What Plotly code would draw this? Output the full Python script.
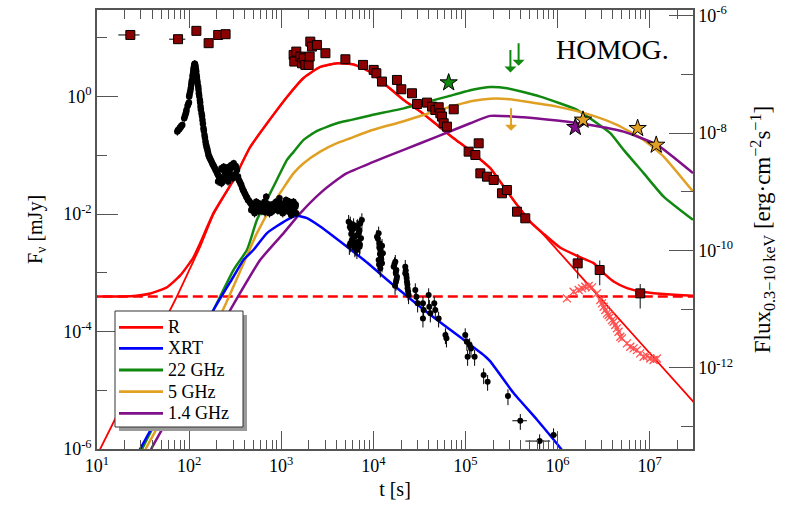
import numpy as np
import plotly.graph_objects as go

# ------------------------------------------------------------------
# DATA; times in s, optical/radio in mJy,
# X-ray in erg cm^-2 s^-1.  Dense sets are stored as log10 values.
# ------------------------------------------------------------------
# Optical R-band, early (with time bins)
R_early_logt = [1.362, 1.880, 2.079, 2.212, 2.316, 2.396]
R_early_logF = [1.050, 0.978, 1.120, 0.910, 1.050, 1.063]
R_early_xerr_frac = [0.26, 0.20, 0.06, 0.06, 0.06, 0.06]

# Optical R-band, main light curve
R_logt = [3.135, 3.142, 3.164, 3.208, 3.226, 3.244, 3.262, 3.298, 3.309, 3.316,
          3.334, 3.388, 3.480, 3.697, 3.888, 4.004, 4.033, 4.094, 4.257, 4.304,
          4.420, 4.475, 4.583, 4.638, 4.674, 4.710, 4.728, 4.746, 4.764, 4.800,
          4.873, 5.035, 5.144, 5.108, 5.162, 5.234, 5.307, 5.397, 5.451, 5.560,
          5.650]
R_logF = [0.710, 0.597, 0.767, 0.682, 0.568, 0.653, 0.540, 0.540, 0.682, 0.937,
          0.852, 0.880, 0.739, 0.636, 0.540, 0.455, 0.398, 0.256, 0.284, 0.125,
          0.057, -0.125, -0.102, -0.170, -0.227, -0.181, -0.284, -0.340, -0.454, -0.511,
          -0.216, -0.937, -0.795, -0.994, -1.306, -1.363, -1.419, -1.646, -1.590, -1.959,
          -2.072]

# Optical R-band, late (host dominated)
R_late_logt = [6.219, 6.458, 6.898]
R_late_logF = [-2.839, -2.953, -3.350]

# Optical R-band, host subtracted (crosses)
Rsub_logt = [6.102, 6.175, 6.230, 6.266, 6.302, 6.338, 6.374, 6.428, 6.465, 6.483,
             6.501, 6.519, 6.537, 6.555, 6.573, 6.591, 6.609, 6.627, 6.645, 6.663,
             6.682, 6.700, 6.754, 6.790, 6.826, 6.862, 6.898, 6.935, 6.971, 7.007,
             7.043, 7.079]
Rsub_logF = [-3.435, -3.322, -3.293, -3.265, -3.237, -3.225, -3.248, -3.350, -3.464, -3.521,
             -3.577, -3.634, -3.691, -3.719, -3.748, -3.805, -3.833, -3.890, -3.946, -4.003,
             -4.088, -4.117, -4.202, -4.259, -4.287, -4.316, -4.372, -4.429, -4.418, -4.458,
             -4.486, -4.458]

# Host galaxy level (mJy)
host_level = 3.95e-4

# Swift/XRT flux, early flare + plateau
XRT_early_logt = [1.872, 1.893, 1.908, 1.926, 1.947, 1.962, 1.972, 1.983, 1.998, 2.001,
                  2.012, 2.023, 2.030, 2.037, 2.045, 2.052, 2.059, 2.066, 2.073, 2.081,
                  2.088, 2.099, 2.106, 2.117, 2.124, 2.135, 2.145, 2.156, 2.167, 2.178,
                  2.189, 2.199, 2.210, 2.225, 2.243, 2.261, 2.279, 2.297, 2.315, 2.333,
                  2.315, 2.351, 2.351, 2.376, 2.405, 2.434, 2.459, 2.484, 2.506, 2.520,
                  2.390, 2.441, 2.477, 2.423, 2.369, 2.531, 2.549, 2.567, 2.585, 2.603,
                  2.621, 2.639, 2.657, 2.675, 2.693, 2.722, 2.747, 2.772, 2.801, 2.830,
                  2.855, 2.881, 2.909, 2.938, 2.963, 2.989, 3.017, 3.046, 3.071, 3.097,
                  3.126, 3.147, 3.162, 2.675, 2.729, 2.819, 2.873, 2.945, 3.017, 3.090,
                  3.108, 2.711, 2.837, 2.981, 3.053, 3.133, 3.154,
                  1.880, 1.900, 1.915, 1.955, 1.968, 1.990, 2.005, 2.018, 2.027, 2.041,
                  2.048, 2.055, 2.062, 2.070, 2.077, 2.084, 2.092, 2.102, 2.110, 2.120,
                  2.128, 2.140, 2.150, 2.160, 2.172, 2.183, 2.194, 2.205, 2.218, 2.235,
                  2.252, 2.270, 2.288, 2.306, 2.324, 2.342, 2.360, 2.385, 2.395, 2.415,
                  2.445, 2.470, 2.490, 2.512, 2.500, 2.460, 2.410, 2.380, 2.358, 2.430,
                  2.540, 2.558, 2.576, 2.594, 2.612, 2.630, 2.648, 2.666, 2.684, 2.700,
                  2.715, 2.735, 2.755, 2.765, 2.790, 2.810, 2.825, 2.845, 2.862, 2.890,
                  2.900, 2.925, 2.950, 2.970, 2.995, 3.005, 3.030, 3.060, 3.080, 3.110,
                  3.120, 3.140, 3.158]
XRT_early_logF = [-7.975, -7.936, -7.901, -7.862, -7.748, -7.674, -7.606, -7.538, -7.481, -7.379,
                  -7.294, -7.180, -7.106, -7.038, -6.953, -6.879, -6.823, -6.840, -6.913, -7.010,
                  -7.106, -7.209, -7.322, -7.436, -7.549, -7.663, -7.777, -7.918, -8.032, -8.146,
                  -8.231, -8.288, -8.373, -8.430, -8.486, -8.543, -8.600, -8.657, -8.713, -8.770,
                  -8.827, -8.855, -8.600, -8.572, -8.628, -8.572, -8.543, -8.515, -8.560, -8.628,
                  -8.696, -8.742, -8.770, -8.827, -8.770, -8.742, -8.827, -8.884, -8.969, -9.026,
                  -9.083, -9.139, -9.168, -9.208, -9.253, -9.281, -9.310, -9.264, -9.298, -9.242,
                  -9.310, -9.264, -9.287, -9.253, -9.321, -9.242, -9.281, -9.225, -9.298, -9.253,
                  -9.310, -9.208, -9.367, -9.310, -9.168, -9.168, -9.367, -9.168, -9.367, -9.168,
                  -9.395, -9.367, -9.083, -9.111, -9.139, -9.168, -9.253,
                  -7.950, -7.910, -7.880, -7.710, -7.640, -7.510, -7.340, -7.240, -7.140, -7.000,
                  -6.910, -6.850, -6.820, -6.870, -6.950, -7.050, -7.150, -7.260, -7.370, -7.480,
                  -7.600, -7.710, -7.840, -7.960, -8.080, -8.190, -8.260, -8.330, -8.400, -8.460,
                  -8.520, -8.570, -8.630, -8.690, -8.740, -8.800, -8.620, -8.600, -8.650, -8.590,
                  -8.620, -8.580, -8.560, -8.600, -8.700, -8.720, -8.760, -8.800, -8.840, -8.700,
                  -8.800, -8.860, -8.930, -8.990, -9.050, -9.100, -9.150, -9.190, -9.240, -9.280,
                  -9.220, -9.240, -9.330, -9.200, -9.330, -9.220, -9.350, -9.200, -9.300, -9.220,
                  -9.340, -9.200, -9.300, -9.240, -9.330, -9.200, -9.300, -9.250, -9.340, -9.220,
                  -9.280, -9.320, -9.220]

# Swift/XRT flux, late decay
XRT_late_logt = [3.750, 3.768, 3.786, 3.804, 3.822, 3.840, 3.858, 3.768, 3.804, 3.840,
                 3.732, 3.786, 3.866, 3.851, 3.750, 3.876, 3.822,
                 3.745, 3.760, 3.775, 3.790, 3.815, 3.830, 3.850, 3.855, 3.740, 3.800,
                 4.040, 4.058, 4.068, 4.076, 4.083, 4.094, 4.076, 4.104, 4.058,
                 4.050, 4.065, 4.072, 4.086, 4.095, 4.062,
                 4.221, 4.239, 4.250, 4.257, 4.246, 4.230, 4.244, 4.252, 4.236,
                 4.347, 4.358, 4.365, 4.372, 4.383, 4.347, 4.352, 4.362, 4.370, 4.378,
                 4.456, 4.467, 4.481, 4.539, 4.546, 4.539, 4.601, 4.608, 4.619,
                 4.662, 4.673, 4.709, 4.783, 4.794, 4.998, 5.016, 5.046, 5.061, 5.024,
                 5.100, 5.198, 5.241, 5.462]
XRT_late_logF = [-9.537, -9.651, -9.764, -9.878, -9.594, -9.707, -9.537, -9.821, -9.935, -9.849,
                 -9.509, -9.566, -9.793, -9.935, -9.878, -9.480, -9.991,
                 -9.600, -9.720, -9.830, -9.620, -9.750, -9.580, -9.660, -9.900, -9.920, -9.960,
                 -9.764, -9.707, -9.878, -9.991, -10.105, -10.219, -10.304, -10.048, -10.162,
                 -9.800, -9.950, -10.060, -10.150, -9.920, -10.240,
                 -10.275, -10.190, -10.332, -10.446, -10.531, -10.230, -10.380, -10.490, -10.600,
                 -10.275, -10.417, -10.531, -10.644, -10.758, -10.389, -10.340, -10.470, -10.580, -10.700,
                 -10.673, -10.786, -10.900, -10.900, -11.014, -11.156, -10.758, -10.957, -11.070,
                 -10.900, -11.014, -11.156, -11.439, -11.496, -11.439, -11.553, -11.610, -11.667, -11.809,
                 -11.809, -12.121, -12.234, -12.479]
# last XRT points (wide time bins)
XRT_tail_logt = [5.596, 5.806, 5.957]
XRT_tail_logF = [-12.899, -13.245, -13.143]
XRT_tail_xerr_frac = [0.18, 0.30, 0.10]

# Radio detections (mJy)
radio22_t = [6.58e4]
radio22_F = [1.73]
radio5_t = [1.89e6, 7.41e6, 1.18e7]
radio5_F = [0.401, 0.289, 0.150]
radio14_t = [1.56e6]
radio14_F = [0.301]

# Radio upper limits (mJy)
ul22_t = [3.08e5, 3.78e5]
ul22_F = [6.24, 8.11]
ul5_t = [3.13e5]
ul5_F = [0.635]

# ------------------ model curves (HOMOG.) ------------------
mR_tot_logt = [1.000, 1.362, 1.579, 1.760, 1.904, 2.046, 2.122, 2.266, 2.483, 2.664,
               2.882, 3.063, 3.243, 3.424, 3.606, 3.786, 3.967, 4.149, 4.329,
               4.510, 4.692, 4.872, 5.017, 5.126, 5.270, 5.415, 5.560, 5.705, 5.849,
               6.031, 6.229, 6.392, 6.501, 6.609, 6.755, 6.899, 7.117, 7.471, 7.551]
mR_tot_logF = [-3.403, -3.399, -3.352, -3.245, -3.045, -2.740, -2.490, -1.980, -1.417, -0.856,
               -0.379, -0.005, 0.318, 0.505, 0.568, 0.548, 0.420, 0.182, -0.056,
               -0.255, -0.482, -0.708, -0.878, -1.021, -1.218, -1.531, -1.843, -2.132, -2.336,
               -2.574, -2.722, -2.835, -3.005, -3.148, -3.260, -3.318, -3.357, -3.391, -3.395]

mR_ag_logt = [0.982, 1.036, 1.579, 1.850, 2.013, 2.122, 2.266, 2.483, 2.664, 2.882,
              3.063, 3.243, 3.424, 3.606, 3.786, 3.967, 4.149, 4.329, 4.510, 4.692,
              4.872, 5.017, 5.126, 5.270, 5.415, 5.560, 5.705, 5.849, 5.995, 6.465,
              7.471, 7.551]
mR_ag_logF = [-6.165, -5.995, -4.293, -3.459, -2.915, -2.550, -2.000, -1.417, -0.856, -0.379,
              -0.005, 0.318, 0.505, 0.568, 0.548, 0.420, 0.182, -0.056, -0.255, -0.482,
              -0.708, -0.878, -1.021, -1.218, -1.531, -1.843, -2.132, -2.353, -2.608, -3.430,
              -5.190, -5.331]

mXRT_logt = [1.362, 1.470, 1.760, 1.977, 2.266, 2.483, 2.592, 2.700, 2.846, 3.063,
             3.172, 3.280, 3.424, 3.569, 3.895, 4.257, 4.618, 4.980, 5.216, 5.270,
             5.523, 5.777, 6.031, 6.085]
mXRT_logF = [-13.681, -13.375, -12.541, -11.860, -11.009, -10.443, -10.159, -9.988, -9.704, -9.478,
             -9.410, -9.449, -9.592, -9.762, -10.159, -10.640, -11.094, -11.520, -11.804, -11.889,
             -12.427, -12.881, -13.363, -13.477]

m22_logt = [1.416, 1.492, 1.850, 2.266, 2.483, 2.629, 2.737, 2.917, 3.063, 3.135,
            3.243, 3.389, 3.606, 3.750, 3.967, 4.329, 4.510, 4.800, 5.089, 5.270,
            5.452, 5.813, 6.212, 6.429, 6.573, 6.718, 6.935, 7.152, 7.471]
m22_logF = [-6.318, -5.995, -4.905, -3.629, -2.949, -2.608, -2.098, -1.531, -1.077, -0.941,
            -0.737, -0.584, -0.453, -0.400, -0.320, -0.200, -0.120, 0.000, 0.120, 0.165,
            0.143, 0.000, -0.226, -0.453, -0.623, -0.907, -1.303, -1.702, -2.098]

m5_logt = [1.438, 1.530, 1.904, 2.368, 2.737, 2.917, 3.135, 3.243, 3.424, 3.606,
           3.750, 3.967, 4.329, 4.692, 4.909, 5.090, 5.270, 5.450, 5.632, 5.995, 6.357,
           6.646, 6.935, 7.152, 7.471]
m5_logF = [-6.318, -5.995, -4.939, -3.629, -2.324, -1.814, -1.303, -1.133, -0.936, -0.793,
           -0.708, -0.580, -0.420, -0.240, -0.140, -0.070, -0.035, -0.040, -0.080, -0.170,
           -0.311, -0.482, -0.737, -1.021, -1.616]

m14_logt = [1.503, 1.590, 2.013, 2.448, 2.773, 3.026, 3.208, 3.424, 3.606, 3.714,
            3.967, 4.329, 4.692, 5.053, 5.270, 5.632, 5.995, 6.357, 6.718, 7.080,
            7.471]
m14_logF = [-6.318, -5.995, -4.822, -3.629, -2.779, -2.324, -1.984, -1.644, -1.417, -1.303,
            -1.133, -0.907, -0.681, -0.453, -0.328, -0.351, -0.408, -0.482, -0.596, -0.822,
            -1.303]

# legend labels
legend_labels = ["R", "XRT", "22 GHz", "5 GHz", "1.4 GHz"]

# axis tick labels
x_tickvals = [1e1, 1e2, 1e3, 1e4, 1e5, 1e6, 1e7]
x_ticktext = ["10<sup>1</sup>", "10<sup>2</sup>", "10<sup>3</sup>", "10<sup>4</sup>",
              "10<sup>5</sup>", "10<sup>6</sup>", "10<sup>7</sup>"]
y_tickvals = [1e-6, 1e-4, 1e-2, 1e0]
y_ticktext = ["10<sup>-6</sup>", "10<sup>-4</sup>", "10<sup>-2</sup>", "10<sup>0</sup>"]
y2_tickvals = [1e-12, 1e-10, 1e-8, 1e-6]
y2_ticktext = ["10<sup>-12</sup>", "10<sup>-10</sup>", "10<sup>-8</sup>", "10<sup>-6</sup>"]

# ------------------------------------------------------------------
def p10(a):
    return 10.0 ** np.asarray(a, dtype=float)

RED = "#ff0000"
BLUE = "#0000ff"
GREEN = "#11880f"
ORANGE = "#e0a024"
PURPLE = "#80108a"
MAROON = "#8b0000"
FONT = "Liberation Serif"
AXC = "#555555"
COLORS = [RED, BLUE, GREEN, ORANGE, PURPLE]

fig = go.Figure()
SPL = dict(shape="spline", smoothing=0.5)

# host level dashed line
fig.add_trace(go.Scatter(x=[10 ** 0.9, 10 ** 7.6], y=[host_level, host_level], mode="lines",
                         line=dict(color=RED, width=2.5, dash="10px,5px"),
                         showlegend=False, hoverinfo="skip"))
# model curves
fig.add_trace(go.Scatter(x=p10(mR_ag_logt), y=p10(mR_ag_logF), mode="lines",
                         line=dict(color=RED, width=1.8, **SPL), showlegend=False))
fig.add_trace(go.Scatter(x=p10(mR_tot_logt), y=p10(mR_tot_logF), mode="lines", name=legend_labels[0],
                         line=dict(color=RED, width=2.5, **SPL), showlegend=False))
fig.add_trace(go.Scatter(x=p10(mXRT_logt), y=p10(mXRT_logF), mode="lines", name=legend_labels[1],
                         yaxis="y2", line=dict(color=BLUE, width=2.5, **SPL), showlegend=False))
fig.add_trace(go.Scatter(x=p10(m22_logt), y=p10(m22_logF), mode="lines", name=legend_labels[2],
                         line=dict(color=GREEN, width=2.5, **SPL), showlegend=False))
fig.add_trace(go.Scatter(x=p10(m5_logt), y=p10(m5_logF), mode="lines", name=legend_labels[3],
                         line=dict(color=ORANGE, width=2.5, **SPL), showlegend=False))
fig.add_trace(go.Scatter(x=p10(m14_logt), y=p10(m14_logF), mode="lines", name=legend_labels[4],
                         line=dict(color=PURPLE, width=2.5, **SPL), showlegend=False))

# XRT data
fig.add_trace(go.Scatter(x=p10(XRT_early_logt), y=p10(XRT_early_logF), mode="markers", yaxis="y2",
                         marker=dict(color="black", size=6.5),
                         error_y=dict(type="percent", value=15, color="black", thickness=1, width=0),
                         showlegend=False))
fig.add_trace(go.Scatter(x=p10(XRT_late_logt), y=p10(XRT_late_logF), mode="markers", yaxis="y2",
                         marker=dict(color="black", size=6),
                         error_y=dict(type="percent", value=30, color="black", thickness=1, width=0),
                         showlegend=False))
xt = p10(XRT_tail_logt)
fig.add_trace(go.Scatter(x=xt, y=p10(XRT_tail_logF), mode="markers", yaxis="y2",
                         marker=dict(color="black", size=6),
                         error_y=dict(type="percent", value=30, color="black", thickness=1, width=0),
                         error_x=dict(type="data", array=xt * np.array(XRT_tail_xerr_frac),
                                      color="black", thickness=1, width=0),
                         showlegend=False))

# optical data
xe = p10(R_early_logt)
fig.add_trace(go.Scatter(x=xe, y=p10(R_early_logF), mode="markers",
                         marker=dict(color=MAROON, size=9, symbol="square",
                                     line=dict(color="black", width=1)),
                         error_x=dict(type="data", array=xe * np.array(R_early_xerr_frac),
                                      color="black", thickness=1, width=0),
                         error_y=dict(type="percent", value=12, color="black", thickness=1, width=0),
                         showlegend=False))
fig.add_trace(go.Scatter(x=p10(R_logt), y=p10(R_logF), mode="markers",
                         marker=dict(color=MAROON, size=9, symbol="square",
                                     line=dict(color="black", width=1)),
                         error_y=dict(type="percent", value=10, color="black", thickness=1, width=0),
                         showlegend=False))
fig.add_trace(go.Scatter(x=p10(R_late_logt), y=p10(R_late_logF), mode="markers",
                         marker=dict(color=MAROON, size=9, symbol="square",
                                     line=dict(color="black", width=1)),
                         error_y=dict(type="percent", value=45, color="#333333", thickness=1.2, width=0),
                         showlegend=False))
fig.add_trace(go.Scatter(x=p10(Rsub_logt), y=p10(Rsub_logF), mode="markers",
                         marker=dict(color="#ff5050", size=8, symbol="x-thin",
                                     line=dict(color="#ff5050", width=1.3)),
                         error_y=dict(type="percent", value=10, color="#ff5050", thickness=1, width=0),
                         showlegend=False))

# radio detections
for tt, ff, col in [(radio22_t, radio22_F, GREEN), (radio14_t, radio14_F, PURPLE),
                    (radio5_t, radio5_F, ORANGE)]:
    fig.add_trace(go.Scatter(x=tt, y=ff, mode="markers",
                             marker=dict(color=col, size=13, symbol="star",
                                         line=dict(color="black", width=1)),
                             showlegend=False))

W, H = 786, 509
ML, MR, MT, MB = 97, 93, 10, 60
pw, ph = W - ML - MR, H - MT - MB


def px2x(px):
    return (px - ML) / pw


def py2y(py):
    return 1 - (py - MT) / ph


# radio upper limits (arrows)
annotations = []
for tt, ff, col in [(ul22_t, ul22_F, GREEN), (ul5_t, ul5_F, ORANGE)]:
    for t_, f_ in zip(tt, ff):
        annotations.append(dict(x=np.log10(t_), y=np.log10(f_), xref="x", yref="y",
                                ax=0, ay=24, axref="pixel", ayref="pixel", text="",
                                showarrow=True, arrowside="start", arrowhead=2,
                                arrowsize=1.1, arrowwidth=2, arrowcolor=col))
annotations.append(dict(x=px2x(612), y=py2y(49), xref="paper", yref="paper", text="HOMOG.",
                        showarrow=False, font=dict(family=FONT, size=28, color="black"),
                        xanchor="center", yanchor="middle"))

# legend box (drawn by hand to match the original layout)
lx0, ly0, lx1, ly1 = 115, 311, 243, 427
shapes = [dict(type="rect", xref="paper", yref="paper", layer="above",
               x0=px2x(lx0 + 4), x1=px2x(lx1 + 4), y0=py2y(ly1 + 4), y1=py2y(ly0 + 4),
               fillcolor="#9a9a9a", line=dict(width=0)),
          dict(type="rect", xref="paper", yref="paper", layer="above",
               x0=px2x(lx0), x1=px2x(lx1), y0=py2y(ly1), y1=py2y(ly0),
               fillcolor="white", line=dict(color="#333333", width=1))]
row_y = [327.3, 348.3, 370.0, 391.7, 413.3]
for lab, col, ry in zip(legend_labels, COLORS, row_y):
    shapes.append(dict(type="line", xref="paper", yref="paper", layer="above",
                       x0=px2x(119), x1=px2x(163), y0=py2y(ry), y1=py2y(ry),
                       line=dict(color=col, width=2.8)))
    annotations.append(dict(x=px2x(166), y=py2y(ry), xref="paper", yref="paper", text=lab,
                            showarrow=False, xanchor="left", yanchor="middle",
                            font=dict(family=FONT, size=18, color="black")))

x_minor = [k * 10.0 ** n for n in range(1, 8) for k in range(2, 10)]

tickfont = dict(family=FONT, size=18, color="black")
fig.update_layout(
    width=W, height=H,
    margin=dict(l=ML, r=MR, t=MT, b=MB, autoexpand=False),
    paper_bgcolor="white", plot_bgcolor="white",
    font=dict(family=FONT, color="black"),
    showlegend=False,
    xaxis=dict(type="log", range=[1, 7.471], showgrid=False, zeroline=False, automargin=False,
               showline=True, linecolor=AXC, linewidth=1.5, mirror="ticks",
               ticks="inside", ticklen=18, tickwidth=1.2, tickcolor=AXC,
               tickvals=x_tickvals, ticktext=x_ticktext, tickfont=tickfont,
               minor=dict(tickvals=x_minor, ticks="inside", ticklen=9, tickwidth=1.2,
                          tickcolor=AXC, showgrid=False),
               title=dict(text="t [s]", font=dict(family=FONT, size=20), standoff=7)),
    yaxis=dict(type="log", range=[-6, 1.475], showgrid=False, zeroline=False, automargin=False,
               showline=True, linecolor=AXC, linewidth=1.5,
               ticks="inside", ticklen=21, tickwidth=1.2, tickcolor=AXC,
               tickvals=y_tickvals, ticktext=y_ticktext, tickfont=tickfont,
               minor=dict(tickvals=[1e-5, 1e-3, 1e-1, 1e1], ticks="inside", ticklen=10,
                          tickwidth=1.2, tickcolor=AXC, showgrid=False),
               title=dict(text="F<sub>ν</sub> [mJy]", font=dict(family=FONT, size=20), standoff=15)),
    yaxis2=dict(type="log", range=[-13.38, -5.905], overlaying="y", side="right",
                showgrid=False, zeroline=False, automargin=False,
                showline=True, linecolor=AXC, linewidth=1.5,
                ticks="inside", ticklen=24, tickwidth=1.2, tickcolor=AXC,
                tickvals=y2_tickvals, ticktext=y2_ticktext, tickfont=tickfont,
                minor=dict(tickvals=[1e-13, 1e-11, 1e-9, 1e-7], ticks="inside", ticklen=12,
                           tickwidth=1.2, tickcolor=AXC, showgrid=False),
                title=dict(text="Flux<sub>0.3−10 keV</sub> [erg·cm<sup>−2</sup>s<sup>−1</sup>]",
                           font=dict(family=FONT, size=23), standoff=22)),
    annotations=annotations,
    shapes=shapes,
)

fig.write_html("out.html")
